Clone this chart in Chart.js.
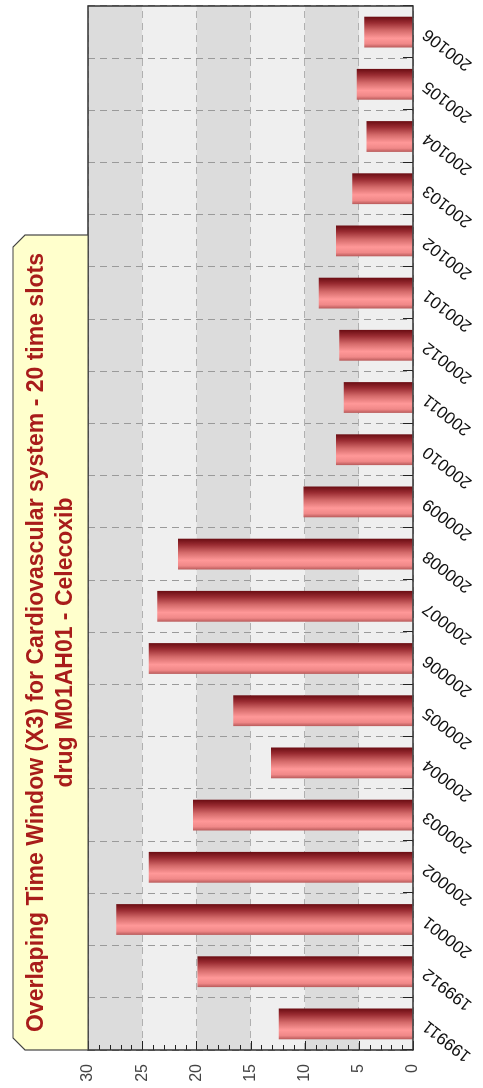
<!DOCTYPE html>
<html>
<head>
<meta charset="utf-8">
<script src="https://cdn.jsdelivr.net/npm/chart.js@4"></script>
<style>
  html, body { margin: 0; padding: 0; background: #fff; overflow: hidden; }
  /* il grafico è disegnato orizzontale e poi girato di 90° */
  #ruotato {
    position: absolute; left: 0; top: 0;
    width: 1088px; height: 483px;
    transform-origin: 0 0;
    transform: translate(0, 1088px) rotate(-90deg);
  }
</style>
</head>
<body>
<div id="ruotato"><canvas id="myChart" width="1088" height="483"></canvas></div>
<script>
// Dati
const periodi = [
  "199911", "199912", "200001", "200002", "200003", "200004", "200005",
  "200006", "200007", "200008", "200009", "200010", "200011", "200012",
  "200101", "200102", "200103", "200104", "200105", "200106",
];
const valori = [
  12.4, 19.9, 27.4, 24.4, 20.3, 13.1, 16.6, 24.4, 23.6, 21.7,
  10.1, 7.1, 6.4, 6.8, 8.7, 7.1, 5.6, 4.3, 5.2, 4.5,
];
const titoloRighe = [
  "Overlaping Time Window (X3) for Cardiovascular system - 20 time slots",
  "drug M01AH01 - Celecoxib",
];
const asseMin = 0;
const asseMax = 30;
const passo = 5;

const larghezzaBarra = 0.59;
const font = "'Liberation Sans', Arial, sans-serif";

// sfumatura della barra (da sinistra a destra sulla colonna)
function coloreBarra(context) {
  const { ctx, chartArea, scales } = context.chart;
  if (!chartArea || !scales.x) return "#d86a6a";
  const slot = scales.x.width / periodi.length;
  const centro = scales.x.getPixelForValue(context.dataIndex);
  const meta = (slot * larghezzaBarra) / 2;
  const g = ctx.createLinearGradient(centro - meta, 0, centro + meta, 0);
  g.addColorStop(0, "#b85a5a");
  g.addColorStop(0.12, "#f08888");
  g.addColorStop(0.3, "#ff9898");
  g.addColorStop(0.55, "#d46a6a");
  g.addColorStop(0.8, "#9a2c32");
  g.addColorStop(1, "#6a0c12");
  return g;
}

// bande grigie alternate dietro le barre
const sfondoPlugin = {
  id: "sfondo",
  beforeDraw(chart) {
    const { ctx, chartArea: a, scales: { y } } = chart;
    ctx.save();
    for (let v = asseMin; v < asseMax; v += passo) {
      const top = y.getPixelForValue(v + passo);
      const bottom = y.getPixelForValue(v);
      ctx.fillStyle = ((v - asseMin) / passo) % 2 === 0 ? "#efefef" : "#dcdcdc";
      ctx.fillRect(a.left, top, a.right - a.left, bottom - top);
    }
    ctx.restore();
  },
};

// tacche interne, cornice e riquadro del titolo
const cornicePlugin = {
  id: "cornice",
  afterDraw(chart) {
    const { ctx, chartArea: a, scales: { x, y } } = chart;
    ctx.save();
    ctx.strokeStyle = "#222";
    ctx.lineWidth = 1;

    // tacche asse categorie
    ctx.beginPath();
    for (let i = 0; i <= periodi.length; i++) {
      const px = Math.round(x.getPixelForValue(i - 0.5)) + 0.5;
      ctx.moveTo(px, a.bottom);
      ctx.lineTo(px, a.bottom - 10);
    }
    // tacche asse valori (minori ogni unità)
    for (let v = asseMin; v <= asseMax; v++) {
      const py = Math.round(y.getPixelForValue(v)) + 0.5;
      const lung = v % passo === 0 ? 9 : 5;
      ctx.moveTo(a.left, py);
      ctx.lineTo(a.left + lung, py);
    }
    ctx.stroke();

    ctx.strokeStyle = "#333";
    ctx.lineWidth = 1.5;
    ctx.strokeRect(a.left, a.top, a.right - a.left, a.bottom - a.top);

    // riquadro titolo con angoli smussati
    const sx = a.left;
    const dx = 853;
    const alto = 13;
    const basso = a.top;
    const sm = 12;
    ctx.beginPath();
    ctx.moveTo(sx, basso);
    ctx.lineTo(sx, alto + sm);
    ctx.lineTo(sx + sm, alto);
    ctx.lineTo(dx - sm, alto);
    ctx.lineTo(dx, alto + sm);
    ctx.lineTo(dx, basso);
    ctx.closePath();
    ctx.fillStyle = "#ffffcc";
    ctx.fill();
    ctx.strokeStyle = "#444";
    ctx.lineWidth = 1.2;
    ctx.stroke();

    ctx.fillStyle = "#a81c1a";
    ctx.font = "bold 23px " + font;
    ctx.textAlign = "center";
    ctx.textBaseline = "alphabetic";
    const cx = (sx + dx) / 2;
    ctx.fillText(titoloRighe[0], cx, 43);
    ctx.fillText(titoloRighe[1], cx, 72);
    ctx.restore();
  },
};

const ctx = document.getElementById("myChart").getContext("2d");

new Chart(ctx, {
  type: "bar",
  data: {
    labels: periodi,
    datasets: [
      {
        data: valori,
        backgroundColor: coloreBarra,
        borderWidth: 0,
        barPercentage: larghezzaBarra,
        categoryPercentage: 1,
      },
    ],
  },
  options: {
    responsive: false,
    animation: false,
    layout: { padding: { top: 88, right: 6, left: 0, bottom: 0 } },
    plugins: {
      legend: { display: false },
      title: { display: false },
      tooltip: { enabled: false },
    },
    scales: {
      x: {
        offset: true,
        grid: { display: true, offset: true, drawTicks: false, color: "#9a9a9a" },
        border: { display: false, dash: [7, 5] },
        ticks: {
          autoSkip: false,
          minRotation: 52,
          maxRotation: 52,
          padding: 6,
          color: "#111",
          font: { family: font, size: 17 },
        },
        afterFit(scale) {
          scale.height = 70;
          scale.paddingLeft = 0;
          scale.paddingRight = 0;
        },
      },
      y: {
        min: asseMin,
        max: asseMax,
        grid: { drawTicks: false, color: "#b0b0b0" },
        border: { display: false, dash: [7, 5] },
        ticks: {
          stepSize: passo,
          padding: 14,
          color: "#444",
          font: { family: font, size: 16 },
        },
        afterFit(scale) {
          scale.width = 38;
          scale.paddingTop = 0;
          scale.paddingBottom = 0;
        },
      },
    },
  },
  plugins: [sfondoPlugin, cornicePlugin],
});
</script>
</body>
</html>
